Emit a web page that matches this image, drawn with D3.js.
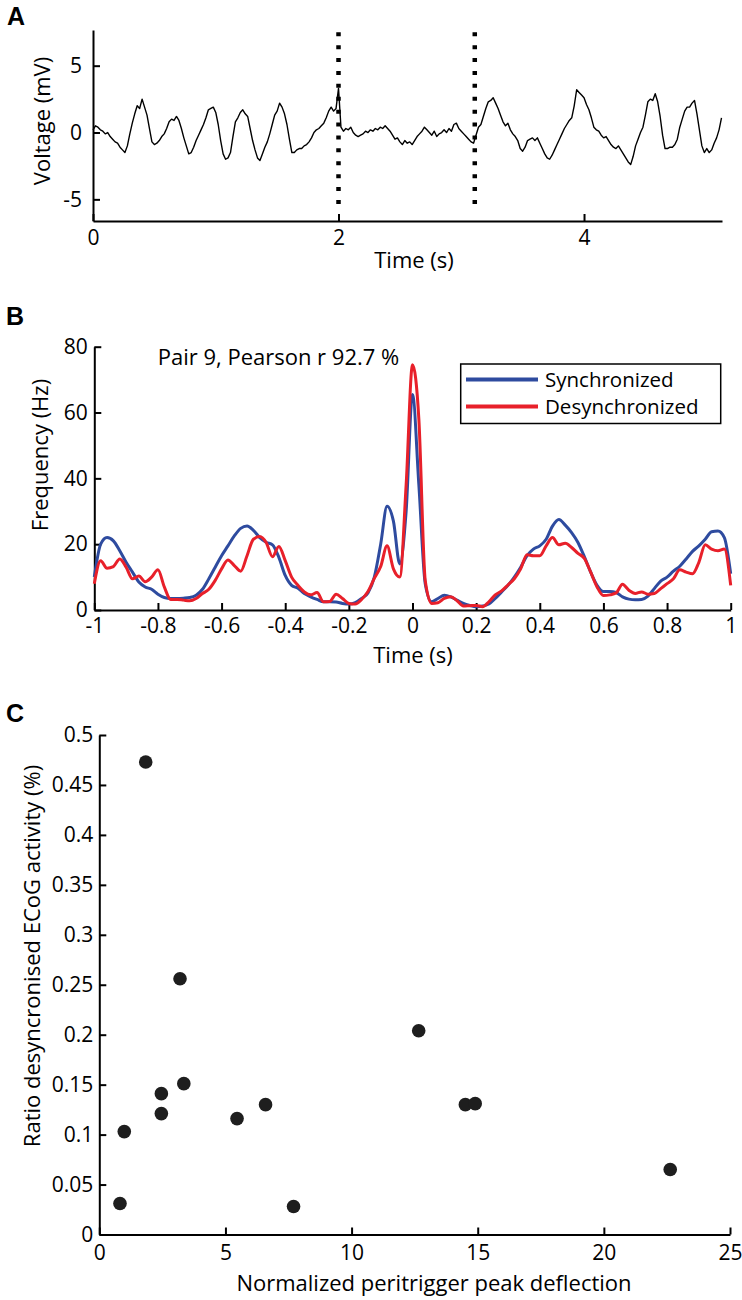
<!DOCTYPE html>
<html>
<head>
<meta charset="utf-8">
<script src="https://cdn.jsdelivr.net/npm/d3@7"></script>
<style>
  body { margin: 0; background: #fff; }
  svg { display: block; }
</style>
</head>
<body>
<div id="chart"></div>
<script>
// ---- data ----
// panel A: voltage trace, one sample every 0.02 s from 0 s
var voltA = [
  0.2, 0.5, 0.4, 0.2, 0.1, -0.1, 0.0, -0.3, -0.5, -0.7,
  -0.8, -1.1, -1.3, -1.5, -1.0, -0.1, 0.7, 1.4, 2.0, 1.8,
  2.5, 1.9, 1.3, 0.3, -0.7, -0.9, -0.8, -0.6, -0.3, -0.1,
  0.3, 0.8, 1.0, 0.9, 1.2, 0.9, 0.3, -0.4, -1.0, -1.6,
  -1.5, -1.1, -0.6, -0.2, 0.2, 0.6, 1.1, 1.7, 1.8, 1.9,
  1.5, 0.6, -0.6, -1.6, -2.0, -1.9, -1.5, -0.3, 0.8, 1.1,
  1.5, 1.7, 1.4, 1.2, 0.3, -0.6, -1.3, -1.9, -2.1, -1.6,
  -1.1, -0.7, -0.1, 0.6, 1.3, 1.6, 2.2, 1.9, 1.4, 0.6,
  -0.5, -1.5, -1.5, -1.3, -1.2, -1.2, -1.0, -0.9, -0.7, -0.4,
  0.0, 0.2, 0.3, 0.5, 0.7, 1.1, 1.6, 1.9, 1.6, 1.8,
  3.3, 0.4, 0.1, 0.3, 0.2, 0.4, 0.0, -0.2, -0.3, -0.2,
  -0.1, 0.1, 0.0, 0.2, 0.1, 0.3, 0.2, 0.4, 0.3, 0.5,
  0.3, 0.1, -0.2, -0.5, -0.4, -0.7, -0.9, -0.6, -0.8, -0.7,
  -0.9, -0.6, -0.3, -0.1, 0.1, 0.4, 0.2, 0.0, -0.2, 0.1,
  -0.3, -0.1, 0.0, 0.2, 0.0, 0.3, 0.1, 0.6, 0.7, 0.3,
  0.1, -0.1, -0.3, -0.5, -0.7, -0.8, -0.2, 0.4, 0.6, 1.2,
  1.8, 2.3, 2.4, 2.6, 2.2, 1.8, 1.3, 0.8, 0.5, 0.7,
  0.2, -0.1, -0.3, -0.6, -1.2, -1.4, -1.1, -0.6, -0.5, -0.4,
  -0.6, -0.4, -0.8, -1.2, -1.6, -1.9, -2.0, -1.7, -1.3, -0.9,
  -0.5, -0.1, 0.3, 0.6, 0.9, 1.1, 2.0, 3.2, 3.0, 2.8,
  2.6, 2.1, 1.7, 1.1, 0.4, 0.2, 0.1, -0.2, -0.4, -0.3,
  -0.6, -0.9, -1.1, -1.2, -1.0, -1.3, -1.6, -1.9, -2.2, -2.4,
  -1.8, -1.0, -0.5, 0.0, 0.4, 1.3, 2.3, 2.5, 2.4, 2.9,
  2.3, 1.2, -0.2, -1.2, -1.2, -1.1, -1.1, -0.9, -0.5, 0.4,
  1.0, 1.6, 1.9, 1.9, 2.2, 2.4, 1.4, 0.2, -1.0, -1.5,
  -1.2, -1.5, -1.3, -0.8, -0.4, 0.2, 1.1
];
var stepA = 0.02;
var markersA = [2.0, 3.11];
var xTicksA = [0, 2, 4];
var yTicksA = [-5, 0, 5];

// panel B: firing frequency, one sample every 0.02 s from -1 s
var syncB = [
  10, 20, 22, 21, 18, 14.5, 11.5, 8.5, 7, 6.3,
  4.8, 3.8, 3.5, 3.5, 3.6, 3.8, 4.5, 6.3, 9.5, 13,
  16.5, 19.5, 22.5, 24.8, 25.5, 24.2, 22, 20.6, 19.8, 16,
  10.5, 7.5, 6.6, 5, 4, 3.2, 2.5, 2.5, 2.4, 2.0,
  1.8, 2.2, 3.5, 5.2, 10, 20, 31.5, 27, 14, 30,
  65.5, 38, 8, 2.5, 3.5, 4.5, 4, 3, 2, 1.4,
  1.0, 1.2, 1.8, 3.5, 5.5, 7.5, 10, 13, 16.5, 18.5,
  19.5, 21.5, 25.5, 27.5, 25.8, 23.5, 20.5, 16.2, 11.5, 7.5,
  5.6, 5.6, 5.3, 4, 3.3, 3.1, 3.2, 4.2, 6.5, 8.8,
  10, 11.8, 13.3, 15.5, 17.8, 19.5, 21.5, 23.8, 24, 22,
  11
];
var desyncB = [
  8, 15, 12.7, 13.2, 15.5, 13, 9.5, 10.3, 8.6, 10,
  12.2, 7, 3.2, 3.2, 3, 2.8, 3.5, 5, 6.3, 9,
  12.5, 15.2, 13.5, 11.8, 16.5, 21.5, 22.3, 20.5, 16.2, 19.3,
  15, 10, 7.5, 5.5, 4.6, 5.3, 2.5, 2.6, 4.8, 3.5,
  2.0, 1.8, 3.2, 5.6, 9.6, 13.2, 19.5, 12.5, 10, 38,
  74.5, 58, 9, 2, 2.2, 3.5, 4, 2.8, 1.2, 1.3,
  1.4, 1.0, 2.5, 4.6, 5.8, 7.6, 9.5, 12.5, 16.8, 16.5,
  16.5, 19.5, 22, 19.8, 20.3, 19, 17.2, 15.7, 11.5, 7,
  4.4, 4.6, 5.2, 7.8, 6, 5, 5.5, 4.8, 5, 6.5,
  8, 9.5, 12.2, 11.5, 11, 14.5, 19.8, 18.5, 18, 18.5,
  7.5
];
var startB = -1, stepB = 0.02;
var xTicksB = [-1, -0.8, -0.6, -0.4, -0.2, 0, 0.2, 0.4, 0.6, 0.8, 1];
var yTicksB = [0, 20, 40, 60, 80];
var seriesNames = ["Synchronized", "Desynchronized"];

// panel C: scatter
var peakC = [0.82, 0.99, 1.84, 2.46, 2.46, 3.2, 3.35, 5.46, 6.59, 7.70, 12.66, 14.51, 14.90, 22.63];
var ratioC = [0.031, 0.103, 0.473, 0.141, 0.121, 0.256, 0.151, 0.116, 0.130, 0.028, 0.204, 0.130, 0.131, 0.065];
var xTicksC = [0, 5, 10, 15, 20, 25];
var yTicksC = [0, 0.05, 0.1, 0.15, 0.2, 0.25, 0.3, 0.35, 0.4, 0.45, 0.5];

// ---- drawing ----
var font = "'Open Sans', 'Noto Sans', sans-serif";
var blue = "#2e4b9f", red = "#e8202a";

var svg = d3.select("#chart")
  .append("svg")
    .attr("width", 742)
    .attr("height", 1300);

svg.append("rect").attr("width", 742).attr("height", 1300).attr("fill", "#fff");

function fmt(d) { return String(d); }

// matlab style axis: ticks inside, thick line
function styleAxis(g) {
  g.attr("font-family", font).attr("font-size", 21);
  g.select(".domain").attr("stroke", "#000").attr("stroke-width", 2);
  g.selectAll(".tick line").attr("stroke", "#000").attr("stroke-width", 2);
  g.selectAll(".tick text").attr("fill", "#000");
}

function label(txt, x, y, rotate) {
  svg.append("text")
    .attr("transform", "translate(" + x + "," + y + ")" + (rotate ? "rotate(-90)" : ""))
    .attr("text-anchor", "middle")
    .attr("font-family", font)
    .attr("font-size", 22)
    .text(txt);
}

function panelLetter(txt, x, y) {
  svg.append("text")
    .attr("x", x).attr("y", y)
    .attr("font-family", "'Liberation Sans', Arial, sans-serif")
    .attr("font-weight", "bold")
    .attr("font-size", 25)
    .text(txt);
}

// ===== A =====
var xA = d3.scaleLinear().domain([0, 5.124]).range([93, 722]);
var yA = d3.scaleLinear().domain([-6.62, 7.67]).range([221, 30]);

svg.append("g")
  .attr("transform", "translate(0,221)")
  .call(d3.axisBottom(xA).tickValues(xTicksA).tickFormat(fmt).tickSize(-7).tickSizeOuter(0).tickPadding(9))
  .call(styleAxis);
svg.append("g")
  .attr("transform", "translate(93,0)")
  .call(d3.axisLeft(yA).tickValues(yTicksA).tickFormat(fmt).tickSize(-7).tickSizeOuter(0).tickPadding(11))
  .call(styleAxis);

svg.append("path")
  .datum(voltA)
  .attr("fill", "none")
  .attr("stroke", "#000")
  .attr("stroke-width", 1.4)
  .attr("stroke-linejoin", "round")
  .attr("d", d3.line()
    .x(function(d, i) { return xA(i * stepA); })
    .y(function(d) { return yA(d); }));

svg.selectAll(".marker")
  .data(markersA)
  .enter()
  .append("line")
    .attr("x1", function(d) { return xA(d); })
    .attr("x2", function(d) { return xA(d); })
    .attr("y1", yA(7.5))
    .attr("y2", yA(-6.0))
    .attr("stroke", "#000")
    .attr("stroke-width", 4.5)
    .attr("stroke-dasharray", "4,8.9");

label("Voltage (mV)", 50, 121, true);
label("Time (s)", 414, 268, false);
panelLetter("A", 7, 25);

// ===== B =====
var xB = d3.scaleLinear().domain([-1, 1]).range([94.3, 730.7]);
var yB = d3.scaleLinear().domain([0, 80]).range([610, 346.7]);

svg.append("g")
  .attr("transform", "translate(0,610)")
  .call(d3.axisBottom(xB).tickValues(xTicksB).tickFormat(fmt).tickSize(-7).tickSizeOuter(0).tickPadding(8.5))
  .call(styleAxis);
svg.append("g")
  .attr("transform", "translate(94.3,0)")
  .call(d3.axisLeft(yB).tickValues(yTicksB).tickFormat(fmt).tickSize(-7).tickSizeOuter(0).tickPadding(6.5))
  .call(styleAxis);

var lineB = d3.line()
  .curve(d3.curveMonotoneX)
  .x(function(d, i) { return xB(startB + i * stepB); })
  .y(function(d) { return yB(d); });

[[syncB, blue], [desyncB, red]].forEach(function(s) {
  svg.append("path")
    .datum(s[0])
    .attr("fill", "none")
    .attr("stroke", s[1])
    .attr("stroke-width", 3)
    .attr("stroke-linejoin", "round")
    .attr("d", lineB);
});

svg.append("text")
  .attr("x", 157.7).attr("y", 365)
  .attr("font-family", font)
  .attr("font-size", 22)
  .text("Pair 9, Pearson r 92.7 %");

// legend
var legend = svg.append("g");
legend.append("rect")
  .attr("x", 460.7).attr("y", 364)
  .attr("width", 260).attr("height", 59.5)
  .attr("fill", "#fff")
  .attr("stroke", "#000")
  .attr("stroke-width", 1.5);
seriesNames.forEach(function(name, i) {
  var yy = 379.5 + i * 27;
  legend.append("line")
    .attr("x1", 466).attr("x2", 538)
    .attr("y1", yy).attr("y2", yy)
    .attr("stroke", i === 0 ? blue : red)
    .attr("stroke-width", 4);
  legend.append("text")
    .attr("x", 545).attr("y", yy + 7.3)
    .attr("font-family", font)
    .attr("font-size", 20.5)
    .text(name);
});

label("Frequency (Hz)", 48, 455, true);
label("Time (s)", 413, 663, false);
panelLetter("B", 6, 325);

// ===== C =====
var xC = d3.scaleLinear().domain([0, 25]).range([99.3, 730]);
var yC = d3.scaleLinear().domain([0, 0.5]).range([1234.5, 735]);

svg.append("g")
  .attr("transform", "translate(0,1234.5)")
  .call(d3.axisBottom(xC).tickValues(xTicksC).tickFormat(fmt).tickSize(-7).tickSizeOuter(0).tickPadding(11))
  .call(styleAxis);
svg.append("g")
  .attr("transform", "translate(99.3,0)")
  .call(d3.axisLeft(yC).tickValues(yTicksC).tickFormat(fmt).tickSize(-7).tickSizeOuter(0).tickPadding(6))
  .call(styleAxis);

svg.selectAll(".dot")
  .data(peakC)
  .enter()
  .append("circle")
    .attr("cx", function(d) { return xC(d); })
    .attr("cy", function(d, i) { return yC(ratioC[i]); })
    .attr("r", 6.8)
    .attr("fill", "#1e1e1e");

label("Ratio desyncronised ECoG activity (%)", 40, 956, true);
label("Normalized peritrigger peak deflection", 434, 1291, false);
panelLetter("C", 6, 722);
</script>
</body>
</html>
